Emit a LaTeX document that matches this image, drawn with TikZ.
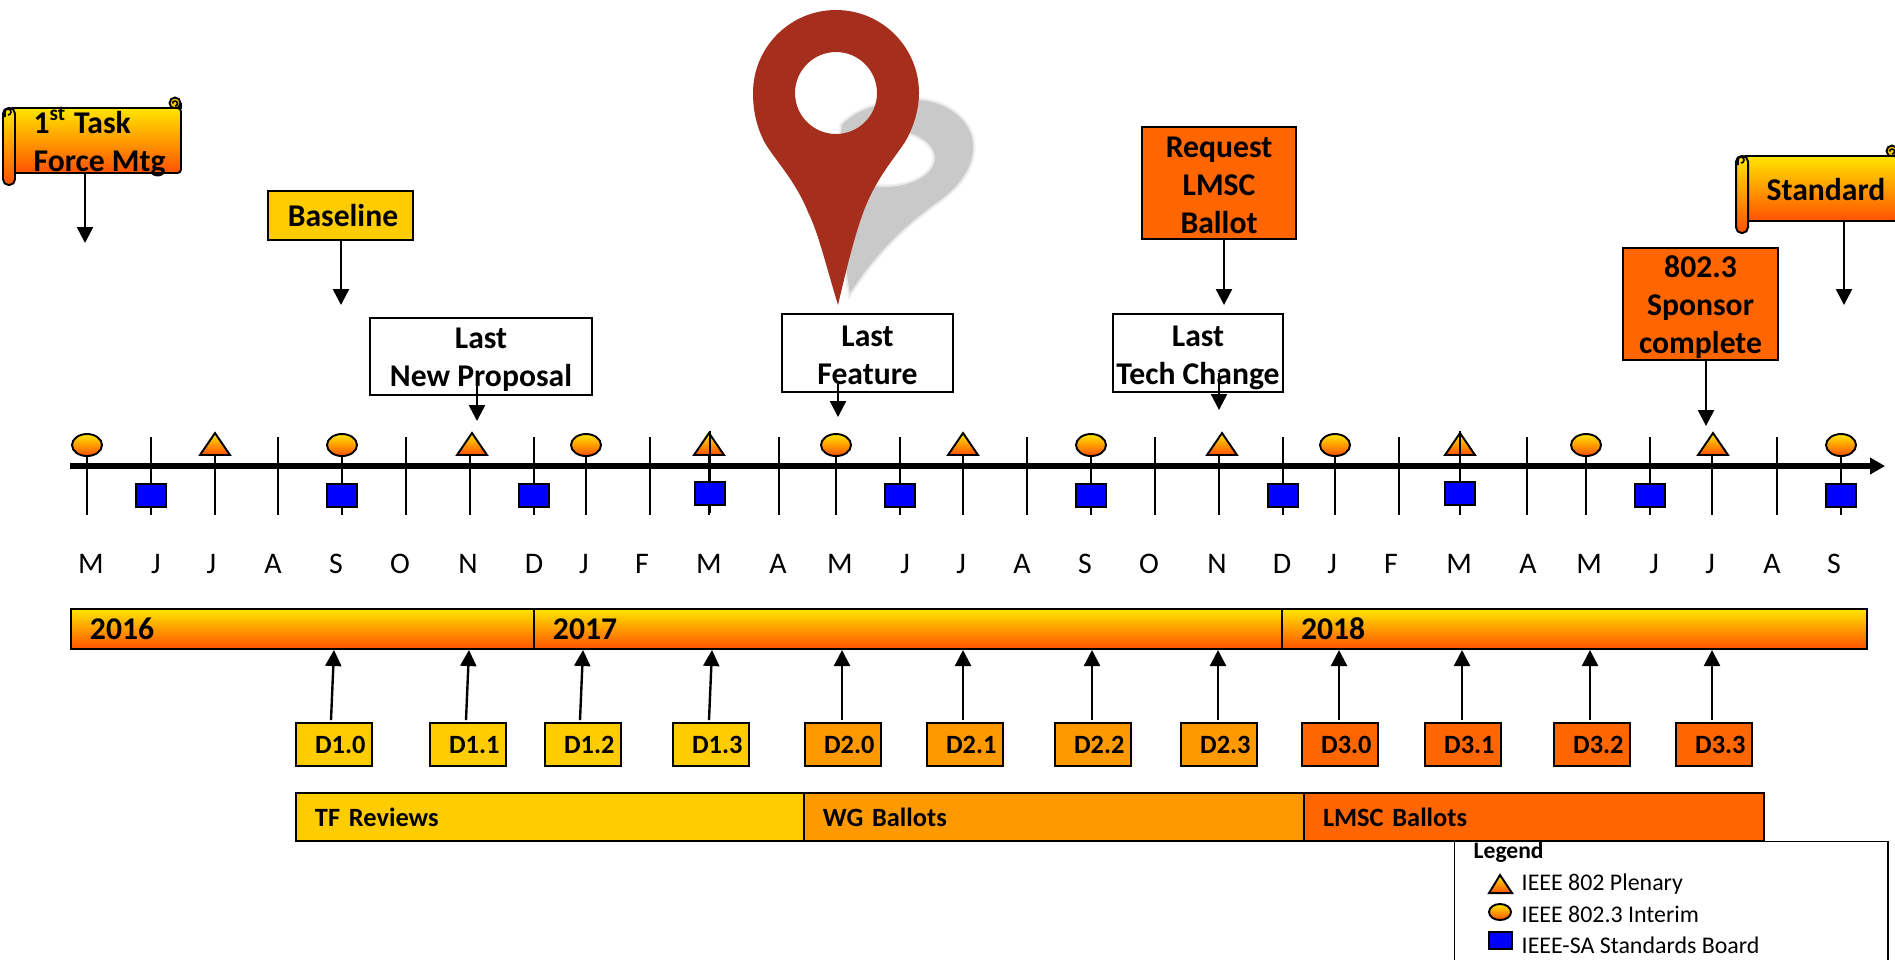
\documentclass[tikz,border=0pt]{standalone}
\usepackage{fontspec}
\setmainfont{Carlito}
\usetikzlibrary{arrows.meta}
\definecolor{clow}{HTML}{FFCC00}
\definecolor{cmid}{HTML}{FF9900}
\definecolor{chigh}{HTML}{FF6600}
\definecolor{gradtop}{HTML}{FFE600}
\definecolor{gradbot}{HTML}{FF5000}
\definecolor{pinred}{HTML}{A52E1C}
\definecolor{pinshade}{HTML}{C9C9C9}
\definecolor{boardblue}{HTML}{0000FF}
\tikzset{
    big/.style={font=\fontsize{9}{10.8}\selectfont\bfseries},
    arw/.style={line width=.68pt,-{Triangle[length=.16cm,width=.16cm]}},
    grad/.style={draw=black,line width=.55pt,top color=gradtop,bottom color=gradbot},
    mbox/.style={draw=black,line width=.55pt,big,align=center,inner sep=0pt},
    yearbox/.style={grad,big,anchor=west,minimum height=.4cm,align=left,inner ysep=0pt,inner xsep=.19cm},
    phasebox/.style={draw=black,line width=.55pt,anchor=west,minimum height=.48cm,align=left,inner ysep=0pt,inner xsep=.19cm,
        font=\fontsize{7.5}{9}\selectfont\bfseries},
    dbox/.style={draw=black,line width=.55pt,minimum height=.43cm,text width=.63cm,align=right,inner ysep=0pt,inner xsep=.065cm,
        font=\fontsize{7.5}{9}\selectfont\bfseries},
    plenary/.pic={\draw[grad,line join=miter] (-15,22) -- (0,0) -- (15,22) -- cycle;},
    interim/.pic={\draw[grad] (0,11) ellipse (15 and 11);},
    board/.pic={\draw[line width=.55pt,fill=boardblue] (-15,0) rectangle (15,23);},
    legtext/.style={anchor=west,inner sep=0pt,font=\fontsize{6.8}{8}\selectfont},
}
% scroll banner: left, top, width
\newcommand{\banner}[3]{
    \begin{scope}[shift={(#1,#2)}]
    \draw[line width=.55pt,fill=clow] (#3-6,-5) circle (5.5);
    \draw[line width=.55pt,rounded corners=1pt,top color=gradtop,bottom color=gradbot]
        (6,0) -- (#3,0) -- (#3,65) -- (6,65) -- cycle;
    \draw[line width=.55pt] (#3-6,0) -- (#3,0) -- (#3,-5);
    \draw[grad,rounded corners=1.6pt] (0,0) rectangle (12,77);
    \draw[line width=.45pt] (5,7) arc (90:-180:3) -- (2,9);
    \draw[line width=.45pt] (#3-6,-2) arc (90:-180:2.5);
    \end{scope}
}
% pin shadow outline
\newcommand{\pinshadow}{
    (850,293) .. controls (870,262) and (895,232) .. (940,200) .. controls (962,184) and (973,165) .. (973,147)
    .. controls (973,120) and (945,100) .. (915,100) .. controls (885,100) and (855,110) .. (842,125)
    -- (835,200) -- cycle
    (885,158) ellipse (50 and 29)
}
\begin{document}
\begin{tikzpicture}[x=0.01cm,y=-0.01cm]
    \useasboundingbox (0,0) rectangle (1895,959);

    % pin
    \draw[pinshade!20,line width=1.6pt] \pinshadow;
    \draw[pinshade!45,line width=.9pt] \pinshadow;
    \fill[pinshade,even odd rule] \pinshadow;
    \fill[pinred,even odd rule] (838,305) .. controls (825,262) and (818,232) .. (808,212)
        .. controls (795,180) and (775,160) .. (765,143) .. controls (757,128) and (753,112) .. (753,93)
        arc (180:360:83)
        .. controls (919,112) and (912,130) .. (905,142) .. controls (893,160) and (875,180) .. (863,213)
        .. controls (855,235) and (848,262) .. (838,305) -- cycle
        (836,93) circle (41);

    % top labels
    \banner{3}{108}{178}
    \node[big,anchor=west,align=left,inner sep=0pt] (taskforce) at (33,142) {1\textsuperscript{st} Task\\Force Mtg};
    \banner{1736}{156}{162}
    \node[big,inner sep=0pt] (standard) at (1826,189) {Standard};
    \node[mbox,fill=clow,minimum width=1.45cm,minimum height=.49cm] (baseline) at (340.5,215.5) {\hspace*{1.4pt}Baseline};
    \node[mbox,minimum width=2.22cm,minimum height=.77cm] (newprop) at (481,356.5) {\rule{0pt}{7.9pt}Last\\New Proposal};
    \node[mbox,minimum width=1.71cm,minimum height=.78cm] (feature) at (867.5,353) {\rule{0pt}{7.2pt}Last\\Feature};
    \node[mbox,minimum width=1.70cm,minimum height=.78cm] (techchange) at (1198,353) {\rule{0pt}{8.5pt}Last\\Tech Change};
    \node[mbox,fill=chigh,minimum width=1.54cm,minimum height=1.12cm] (request) at (1219,183) {\rule{0pt}{7pt}Request\\LMSC\\Ballot};
    \node[mbox,fill=chigh,minimum width=1.55cm,minimum height=1.12cm] (sponsor) at (1700.5,304) {\rule{0pt}{7.9pt}802.3\\Sponsor\\complete};

    \coordinate (tiptask) at (85,243);
    \coordinate (tipbase) at (341,305);
    \coordinate (tipprop) at (477,421);
    \coordinate (tipfeat) at (838,417);
    \coordinate (tiptech) at (1219,410);
    \coordinate (tipreq) at (1224,305);
    \coordinate (tipspon) at (1706,426);
    \coordinate (tipstd) at (1844,305);
    \draw[arw] (85,173) -- (tiptask);
    \draw[arw] (tipbase |- baseline.south) -- (tipbase);
    \draw[arw] ([yshift=.17cm]tipprop |- newprop.south) -- (tipprop);
    \draw[arw] ([yshift=.09cm]tipfeat |- feature.south) -- (tipfeat);
    \draw[arw] ([yshift=.2cm]tiptech |- techchange.south) -- (tiptech);
    \draw[arw] (tipreq |- request.south) -- (tipreq);
    \draw[arw] (tipspon |- sponsor.south) -- (tipspon);
    \draw[arw] (1844,221) -- (tipstd);

    % time line
    \coordinate (axisstart) at (70,466);
    \coordinate (axisend) at (1885,466);
    \draw[line width=1.5pt,-{Triangle[length=.15cm,width=.16cm]}] (axisstart) -- (axisend);
    \foreach \x/\m/\lx [count=\i] in {87/M/91,151/J/156,215/J/211.5,278/A/273,342/S/336,406/O/400,470/N/468,534/D/534,
        586/J/584,650/F/642,709/M/709,779/A/778,836/M/840,900/J/905,963/J/961,1027/A/1022,1091/S/1085,1155/O/1149,
        1219/N/1217,1283/D/1282,1335/J/1332,1399/F/1391,1460/M/1459,1527/A/1528,1586/M/1589,1650/J/1654,1712/J/1710,
        1777/A/1772,1841/S/1834}{
        \draw[line width=.5pt] (\x,437) -- (\x,515);
        \node[inner sep=0pt,font=\fontsize{8.5}{10}\selectfont] (m\i) at (\lx,564) {\m};
    }
    \foreach \x in {215,472,709,963,1222,1460,1713}
        \pic at (\x,433) {plenary};
    \foreach \x in {87,342,586,836,1091,1335,1586,1841}
        \pic at (\x,434) {interim};
    \foreach \x in {151,342,534,900,1091,1283,1650,1841}
        \pic at (\x,484) {board};
    \foreach \x in {710,1460}{
        \pic at (\x,482) {board};
        \draw[line width=.6pt] (\x,431) -- (\x,482);
        \draw[line width=.6pt] (\x,504) -- (\x,513);
    }

    % years
    \node[yearbox,minimum width=4.63cm,text width=4.25cm] (y2016) at (70,629) {2016};
    \node[yearbox,minimum width=7.48cm,text width=7.10cm] (y2017) at (533,629) {2017};
    \node[yearbox,minimum width=5.85cm,text width=5.47cm] (y2018) at (1281,629) {2018};

    % drafts
    \foreach \n/\c/\f/\t/\sx/\tx in {10/334/clow/D1.0/331/334,11/468/clow/D1.1/466/469,12/583/clow/D1.2/580/583,
        13/711/clow/D1.3/709/712,20/843/cmid/D2.0/842/842,21/965/cmid/D2.1/963/963,22/1093/cmid/D2.2/1092/1092,
        23/1219/cmid/D2.3/1218/1218,30/1340/chigh/D3.0/1339/1339,31/1463/chigh/D3.1/1462/1462,
        32/1592/chigh/D3.2/1590/1590,33/1714/chigh/D3.3/1712/1712}{
        \node[dbox,fill=\f] (d\n) at (\c,744.5) {\t};
        \coordinate (t\n) at (\tx,650);
        \draw[arw] ([yshift=.02cm]\sx,0 |- d\n.north) -- (t\n);
    }

    % legend
    \node[draw=black,line width=.4pt,anchor=north west,minimum width=4.33cm,minimum height=1.6cm] (legendbox) at (1454,841) {};
    \node[legtext,font=\fontsize{6.7}{8}\selectfont\bfseries] (legend) at (1473,852) {Legend};
    \node[legtext] (legplenary) at (1521,884) {IEEE 802 Plenary};
    \node[legtext] (leginterim) at (1521,914) {IEEE 802.3 Interim};
    \node[legtext] (legboard) at (1521,945) {IEEE-SA Standards Board};
    \draw[grad] (1489,893) -- (1500,875) -- (1512,893) -- cycle;
    \draw[grad] (1500,912) ellipse (11 and 8);
    \draw[line width=.55pt,fill=boardblue] (1489,932) rectangle (1512,949);

    % phases
    \node[phasebox,fill=clow,minimum width=5.08cm,text width=4.70cm] (tf) at (295,817) {TF Reviews};
    \node[phasebox,fill=cmid,minimum width=5.00cm,text width=4.62cm] (wg) at (803,817) {WG Ballots};
    \node[phasebox,fill=chigh,minimum width=4.60cm,text width=4.22cm] (lmsc) at (1303,817) {LMSC Ballots};
\end{tikzpicture}
\end{document}
